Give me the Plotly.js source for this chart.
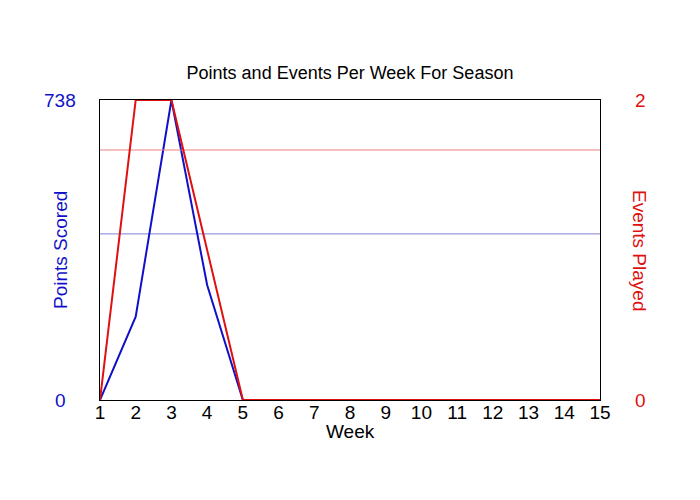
<!DOCTYPE html>
<html>
<head>
<meta charset="utf-8">
<script src="https://cdn.plot.ly/plotly-3.0.1.min.js"></script>
<style>
  html, body { margin: 0; padding: 0; background: #fff; }
  #chart { width: 700px; height: 500px; }
</style>
</head>
<body>
<div id="chart"></div>
<script>
// Season data, one entry per week
const weeks = [1, 2, 3, 4, 5, 6, 7, 8, 9, 10, 11, 12, 13, 14, 15];
const pointsScored = [0, 205, 738, 283, 0, 0, 0, 0, 0, 0, 0, 0, 0, 0, 0];
const eventsPlayed = [0, 2, 2, 1, 0, 0, 0, 0, 0, 0, 0, 0, 0, 0, 0];

// average over the weeks that had any events
function avgPlayed(values) {
    let sum = 0, n = 0;
    for (let i = 0; i < values.length; i++) {
        if (eventsPlayed[i] > 0) { sum += values[i]; n++; }
    }
    return n ? sum / n : 0;
}

const pointsAvg = avgPlayed(pointsScored);
const eventsAvg = avgPlayed(eventsPlayed);
const pointsMax = Math.max(...pointsScored);
const eventsMax = Math.max(...eventsPlayed);
const pointsTicks = [0, pointsMax];
const eventsTicks = [0, eventsMax];

const blue = '#1010c8';
const red = '#e01010';
const font = 'Liberation Sans, Arial, sans-serif';

const traces = [
    {
        x: weeks, y: weeks.map(() => pointsAvg),
        type: 'scatter', mode: 'lines', yaxis: 'y',
        line: { color: '#8080d8', width: 1 }, hoverinfo: 'skip'
    },
    {
        x: weeks, y: weeks.map(() => eventsAvg),
        type: 'scatter', mode: 'lines', yaxis: 'y2',
        line: { color: '#e88080', width: 1 }, hoverinfo: 'skip'
    },
    {
        x: weeks, y: pointsScored, name: 'Points Scored',
        type: 'scatter', mode: 'lines', yaxis: 'y',
        line: { color: blue, width: 2 }
    },
    {
        x: weeks, y: eventsPlayed, name: 'Events Played',
        type: 'scatter', mode: 'lines', yaxis: 'y2',
        line: { color: red, width: 2 }
    }
];

// y tick labels are centred in the side margins, so they go in as annotations
const annotations = [];
pointsTicks.forEach(v => annotations.push({
    text: String(v), xref: 'paper', yref: 'y', x: 0, y: v, xshift: -40,
    xanchor: 'center', yanchor: 'middle', showarrow: false,
    font: { family: font, size: 19, color: blue }
}));
eventsTicks.forEach(v => annotations.push({
    text: String(v), xref: 'paper', yref: 'y2', x: 1, y: v, xshift: 40,
    xanchor: 'center', yanchor: 'middle', showarrow: false,
    font: { family: font, size: 19, color: red }
}));
annotations.push({
    text: 'Points Scored', xref: 'paper', yref: 'paper',
    x: 0, y: 0.5, xshift: -40, xanchor: 'center', yanchor: 'middle',
    textangle: -90, showarrow: false,
    font: { family: font, size: 19, color: blue }
});
annotations.push({
    text: 'Events Played', xref: 'paper', yref: 'paper',
    x: 1, y: 0.5, xshift: 40, xanchor: 'center', yanchor: 'middle',
    textangle: 90, showarrow: false,
    font: { family: font, size: 19, color: red }
});
annotations.push({
    text: 'Week', xref: 'paper', yref: 'paper',
    x: 0.5, y: 0, yshift: -31, xanchor: 'center', yanchor: 'middle',
    showarrow: false,
    font: { family: font, size: 19, color: '#000' }
});

const layout = {
    width: 700,
    height: 500,
    paper_bgcolor: '#fff',
    plot_bgcolor: '#fff',
    font: { family: font, size: 18, color: '#000' },
    showlegend: false,
    margin: { l: 100, r: 100, t: 100, b: 100 },
    title: {
        text: 'Points and Events Per Week For Season',
        font: { size: 18, color: '#000' },
        x: 0.5, xanchor: 'center', y: 0.854, yanchor: 'middle'
    },
    xaxis: {
        range: [1, 15],
        tickvals: weeks,
        ticks: '',
        showgrid: false,
        zeroline: false,
        showline: true, mirror: true,
        linecolor: '#000', linewidth: 1,
        tickfont: { size: 19, color: '#000' },
        ticklabelstandoff: -5
    },
    yaxis: {
        range: [0, pointsMax],
        showticklabels: false,
        ticks: '',
        showgrid: false,
        zeroline: false,
        showline: true, mirror: true,
        linecolor: '#000', linewidth: 1
    },
    yaxis2: {
        overlaying: 'y',
        side: 'right',
        range: [0, eventsMax],
        showticklabels: false,
        ticks: '',
        showgrid: false,
        zeroline: false
    },
    annotations: annotations
};

Plotly.newPlot('chart', traces, layout, { displayModeBar: false, staticPlot: true });
</script>
</body>
</html>
